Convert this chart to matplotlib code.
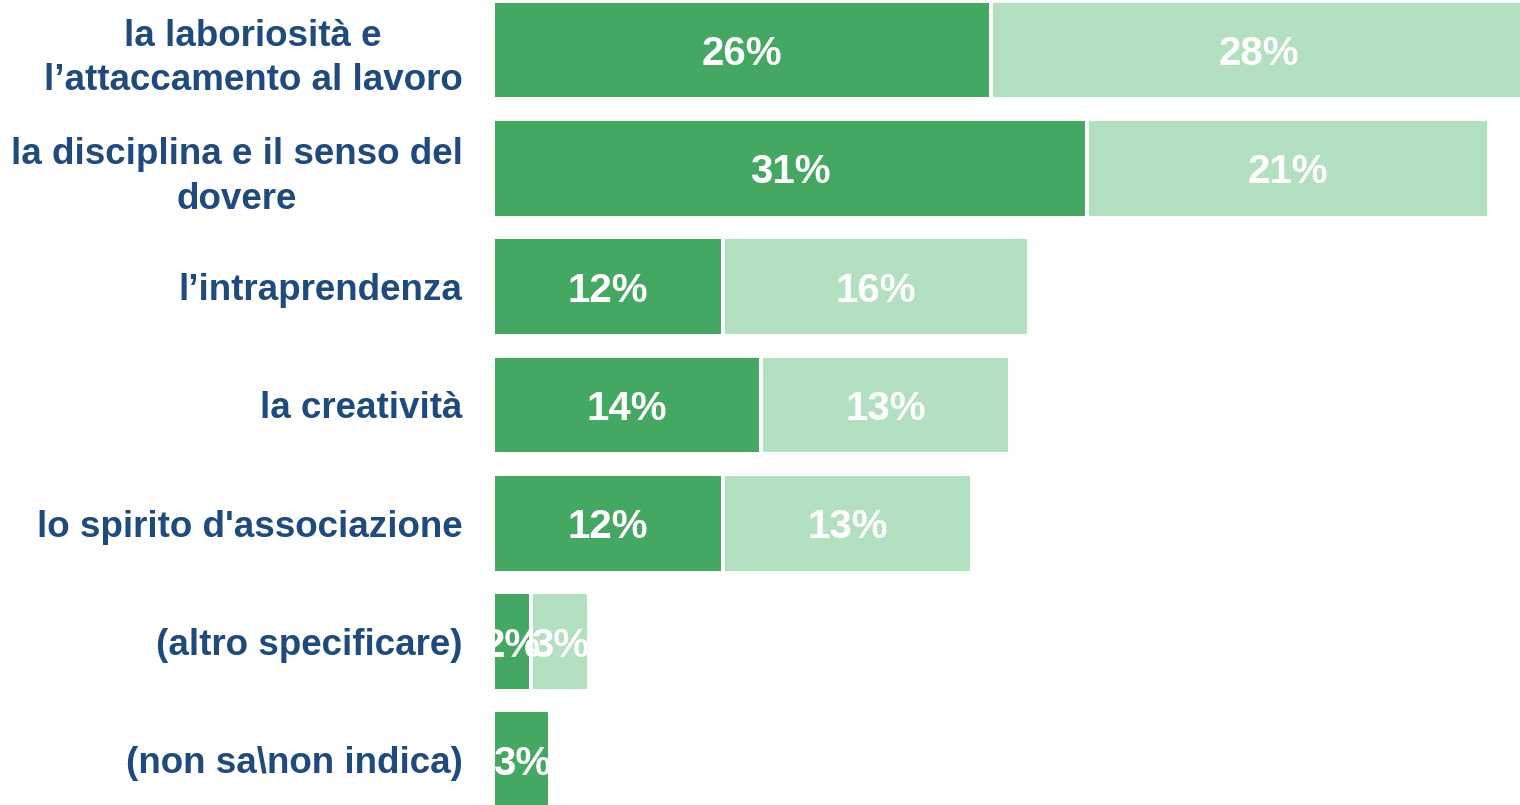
import matplotlib.pyplot as plt

plt.rcParams['font.family'] = ['Liberation Sans', 'DejaVu Sans']

categories = ["la laboriosità e\nl\u2019attaccamento al lavoro",
              "la disciplina e il senso del\ndovere",
              "l\u2019intraprendenza",
              "la creatività",
              "lo spirito d'associazione",
              "(altro specificare)",
              "(non sa\\non indica)"]
first = [26, 31, 12, 14, 12, 2, 3]
second = [28, 21, 16, 13, 13, 3, 0]

dark = '#45a862'
light = '#b2e0c1'
blue = '#1f4a7e'

fig = plt.figure(figsize=(15.2, 8.05), dpi=100)
ax = fig.add_axes([493 / 1520, 0, 1 - 493 / 1520, 1])

y = list(range(len(categories)))
b1 = ax.barh(y, first, height=0.835, color=dark, edgecolor='white', linewidth=2.8)
b2 = ax.barh(y, second, left=first, height=0.835, color=light, edgecolor='white', linewidth=2.8)

# labels clipped to their own bar, like in the original
for bars, vals in ((b1, first), (b2, second)):
    for rect, v in zip(bars, vals):
        if v == 0:
            continue
        cx = rect.get_x() + rect.get_width() / 2
        cy = rect.get_y() + rect.get_height() / 2
        t = ax.text(cx, cy, f'{v}%', ha='center', va='center_baseline', color='white',
                    fontsize=29, fontweight='bold')
        t.set_clip_path(rect)

ax.set_xlim(0, 53.6)
ax.set_ylim(6.382, -0.423)
ax.set_yticks(y)
ax.set_yticklabels(categories, fontsize=26.5, fontweight='bold', color=blue,
                   multialignment='center', linespacing=1.35)
ax.tick_params(axis='y', length=0, pad=22)
ax.set_xticks([])
for s in ax.spines.values():
    s.set_visible(False)

fig.savefig('out.png', dpi=100)
